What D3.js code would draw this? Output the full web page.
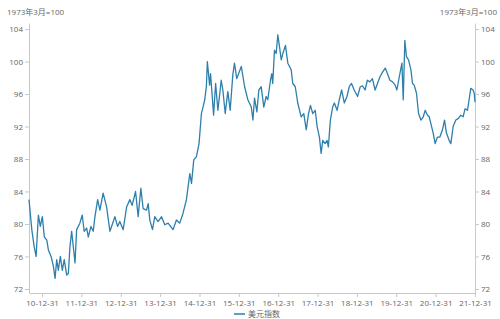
<!DOCTYPE html>
<html>
<head>
<meta charset="utf-8">
<script src="https://cdn.jsdelivr.net/npm/d3@7"></script>
<style>
  body { margin: 0; background: #fff; }
  svg text { font-family: "Open Sans", "Noto Sans CJK SC", sans-serif; }
</style>
</head>
<body>
<div id="chart"></div>
<script>
var seriesName = '美元指数'
var unitLabel = '1973年3月=100'
var yTicks = [72, 76, 80, 84, 88, 92, 96, 100, 104]
var xTicks = ['2010-12-31', '2011-12-31', '2012-12-31', '2013-12-31', '2014-12-31', '2015-12-31',
              '2016-12-31', '2017-12-31', '2018-12-31', '2019-12-31', '2020-12-31', '2021-12-31']

var dates = [
  '2010-09-01', '2010-09-27', '2010-10-19', '2010-11-06', '2010-11-27', '2010-12-15',
  '2011-01-03', '2011-01-21', '2011-02-13', '2011-02-28', '2011-03-25', '2011-04-15',
  '2011-05-01', '2011-05-16', '2011-05-31', '2011-06-19', '2011-07-07', '2011-07-25',
  '2011-08-17', '2011-09-01', '2011-09-16', '2011-10-02', '2011-10-17', '2011-11-02',
  '2011-11-17', '2011-12-17', '2012-01-08', '2012-01-26', '2012-02-18', '2012-03-04',
  '2012-03-29', '2012-04-19', '2012-05-05', '2012-05-30', '2012-06-20', '2012-07-20',
  '2012-08-21', '2012-09-21', '2012-10-12', '2012-11-06', '2012-12-01', '2012-12-22',
  '2013-01-22', '2013-02-23', '2013-03-25', '2013-04-15', '2013-05-17', '2013-06-10',
  '2013-07-05', '2013-07-26', '2013-08-27', '2013-09-11', '2013-09-26', '2013-10-21',
  '2013-11-11', '2013-12-12', '2014-01-13', '2014-02-12', '2014-03-15', '2014-04-30',
  '2014-05-31', '2014-07-01', '2014-07-31', '2014-09-01', '2014-10-02', '2014-10-18',
  '2014-11-08', '2014-12-03', '2014-12-27', '2015-01-18', '2015-02-02', '2015-02-18',
  '2015-03-05', '2015-03-14', '2015-04-04', '2015-04-13', '2015-05-11', '2015-05-30',
  '2015-06-20', '2015-07-21', '2015-08-05', '2015-08-27', '2015-09-20', '2015-10-12',
  '2015-11-05', '2015-11-21', '2015-12-12', '2016-01-23', '2016-02-23', '2016-03-24',
  '2016-04-25', '2016-05-10', '2016-05-25', '2016-06-16', '2016-07-04', '2016-07-26',
  '2016-08-19', '2016-09-10', '2016-09-25', '2016-10-20', '2016-11-01', '2016-11-10',
  '2016-11-26', '2016-12-12', '2016-12-27', '2017-01-12', '2017-01-28', '2017-02-12',
  '2017-03-08', '2017-03-30', '2017-04-30', '2017-05-15', '2017-06-07', '2017-06-30',
  '2017-08-01', '2017-08-25', '2017-09-17', '2017-10-08', '2017-10-26', '2017-11-16',
  '2017-12-09', '2017-12-27', '2018-01-17', '2018-02-02', '2018-02-17', '2018-03-11',
  '2018-03-29', '2018-04-10', '2018-04-29', '2018-05-20', '2018-06-05', '2018-06-30',
  '2018-07-21', '2018-08-11', '2018-09-05', '2018-09-30', '2018-10-21', '2018-11-11',
  '2018-12-06', '2019-01-06', '2019-01-31', '2019-02-21', '2019-03-17', '2019-04-07',
  '2019-04-30', '2019-05-24', '2019-06-18', '2019-07-10', '2019-08-01', '2019-08-26',
  '2019-09-20', '2019-10-11', '2019-11-02', '2019-11-27', '2019-12-21', '2020-01-06',
  '2020-01-28', '2020-02-22', '2020-03-05', '2020-03-20', '2020-04-04', '2020-04-23',
  '2020-05-15', '2020-05-30', '2020-06-15', '2020-07-06', '2020-07-25', '2020-08-16',
  '2020-09-07', '2020-09-25', '2020-10-16', '2020-11-01', '2020-11-16', '2020-12-08',
  '2020-12-26', '2021-01-17', '2021-02-08', '2021-03-04', '2021-03-23', '2021-04-10',
  '2021-05-05', '2021-05-21', '2021-06-11', '2021-07-06', '2021-07-30', '2021-08-21',
  '2021-09-12', '2021-09-30', '2021-10-22', '2021-11-06', '2021-11-22', '2021-12-13',
  '2021-12-24', '2021-12-31'
]
var values = [
  83.0, 79.3, 77.2, 76.0, 81.1, 79.7,
  80.9, 78.4, 78.0, 76.8, 76.0, 74.8,
  73.3, 75.6, 74.3, 76.0, 74.3, 75.6,
  73.7, 73.9, 77.2, 79.1, 77.2, 75.2,
  79.3, 80.1, 81.1, 79.1, 79.5, 78.4,
  79.7, 79.1, 80.9, 83.0, 81.7, 83.8,
  82.1, 79.1, 79.9, 80.9, 79.7, 80.3,
  79.3, 82.1, 83.0, 82.3, 84.0, 80.9,
  84.4, 81.9, 81.7, 82.5, 80.5, 79.3,
  80.9, 80.3, 80.9, 79.9, 80.1, 79.3,
  80.5, 80.1, 81.3, 83.0, 86.2, 85.0,
  87.9, 88.3, 89.9, 93.6, 94.4, 95.3,
  96.9, 100.0, 97.1, 98.5, 93.4, 97.3,
  94.0, 97.7, 96.5, 93.6, 96.3, 94.0,
  98.3, 99.8, 97.9, 99.4, 96.9, 95.3,
  94.4, 92.8, 95.5, 93.8, 96.5, 96.9,
  94.4, 95.7, 95.3, 97.7, 98.5, 97.3,
  101.4, 101.0, 103.3, 101.8, 100.2, 101.0,
  102.0, 99.8, 99.0, 97.3, 96.9, 94.9,
  93.2, 93.6, 91.6, 93.6, 94.6, 93.6,
  94.0, 92.0, 90.7, 88.7, 90.3, 89.9,
  90.3, 89.5, 92.8, 94.4, 94.9, 94.0,
  95.3, 96.5, 94.9, 95.7, 96.9, 97.3,
  96.5, 95.7, 96.9, 97.0, 96.5, 97.7,
  97.5, 97.9, 96.5, 97.3, 98.1, 98.7,
  99.2, 98.5, 97.7, 97.5, 97.1, 96.5,
  98.1, 99.8, 95.3, 102.6, 100.6, 100.2,
  99.0, 97.3, 97.1, 96.1, 93.6, 92.8,
  93.2, 94.0, 93.4, 93.2, 92.4, 91.2,
  89.9, 90.7, 90.7, 91.6, 92.8, 91.2,
  90.3, 89.9, 92.0, 92.8, 93.0, 93.4,
  93.2, 94.2, 94.0, 95.3, 96.7, 96.5,
  96.1, 95.0
]

var width = 500, height = 319
var margin = {left: 29, right: 25, top: 23, bottom: 26}
var parse = d3.timeParse('%Y-%m-%d')
var data = dates.map(function(d, i){ return {date: parse(d), value: values[i]} })

var svg = d3.select('#chart').append('svg')
    .attr('width', width).attr('height', height)

var x = d3.scaleTime()
    .domain(d3.extent(data, function(d){ return d.date }))
    .range([margin.left, width - margin.right])

var y = d3.scaleLinear()
    .domain([71.5, 104.75])
    .range([height - margin.bottom, margin.top])

var axisColor = '#c8c8c8', textColor = '#666'

function styleAxis(g){
  g.selectAll('path, line').attr('stroke', axisColor)
  g.selectAll('text').attr('fill', textColor).style('font-size', '8px')
}

svg.append('g')
    .attr('transform', 'translate(' + margin.left + ',0)')
    .call(d3.axisLeft(y).tickValues(yTicks).tickSize(4).tickSizeOuter(0).tickPadding(2))
    .call(styleAxis)

svg.append('g')
    .attr('transform', 'translate(' + (width - margin.right) + ',0)')
    .call(d3.axisRight(y).tickValues(yTicks).tickSize(4).tickSizeOuter(0).tickPadding(2))
    .call(styleAxis)

svg.append('g')
    .attr('transform', 'translate(0,' + (height - margin.bottom) + ')')
    .call(d3.axisBottom(x).tickValues(xTicks.map(parse)).tickFormat(d3.timeFormat('%y-%m-%d'))
      .tickSize(4).tickSizeOuter(0).tickPadding(3))
    .call(styleAxis)

svg.append('text')
    .attr('x', 7).attr('y', 15)
    .attr('fill', textColor).style('font-size', '8px')
    .text(unitLabel)

svg.append('text')
    .attr('x', 497).attr('y', 15).attr('text-anchor', 'end')
    .attr('fill', textColor).style('font-size', '8px')
    .text(unitLabel)

var lineColor = '#2d7fac'
var line = d3.line()
    .x(function(d){ return x(d.date) })
    .y(function(d){ return y(d.value) })

svg.append('path')
    .datum(data)
    .attr('fill', 'none')
    .attr('stroke', lineColor)
    .attr('stroke-width', 1.3)
    .attr('stroke-linejoin', 'round')
    .attr('d', line)

// legend
var legend = svg.append('g').attr('transform', 'translate(234,314)')
legend.append('line')
    .attr('x1', 0).attr('x2', 11)
    .attr('stroke', lineColor).attr('stroke-width', 1.5)
legend.append('text')
    .attr('x', 14).attr('y', 3)
    .attr('fill', textColor).style('font-size', '8px')
    .text(seriesName)
</script>
</body>
</html>
